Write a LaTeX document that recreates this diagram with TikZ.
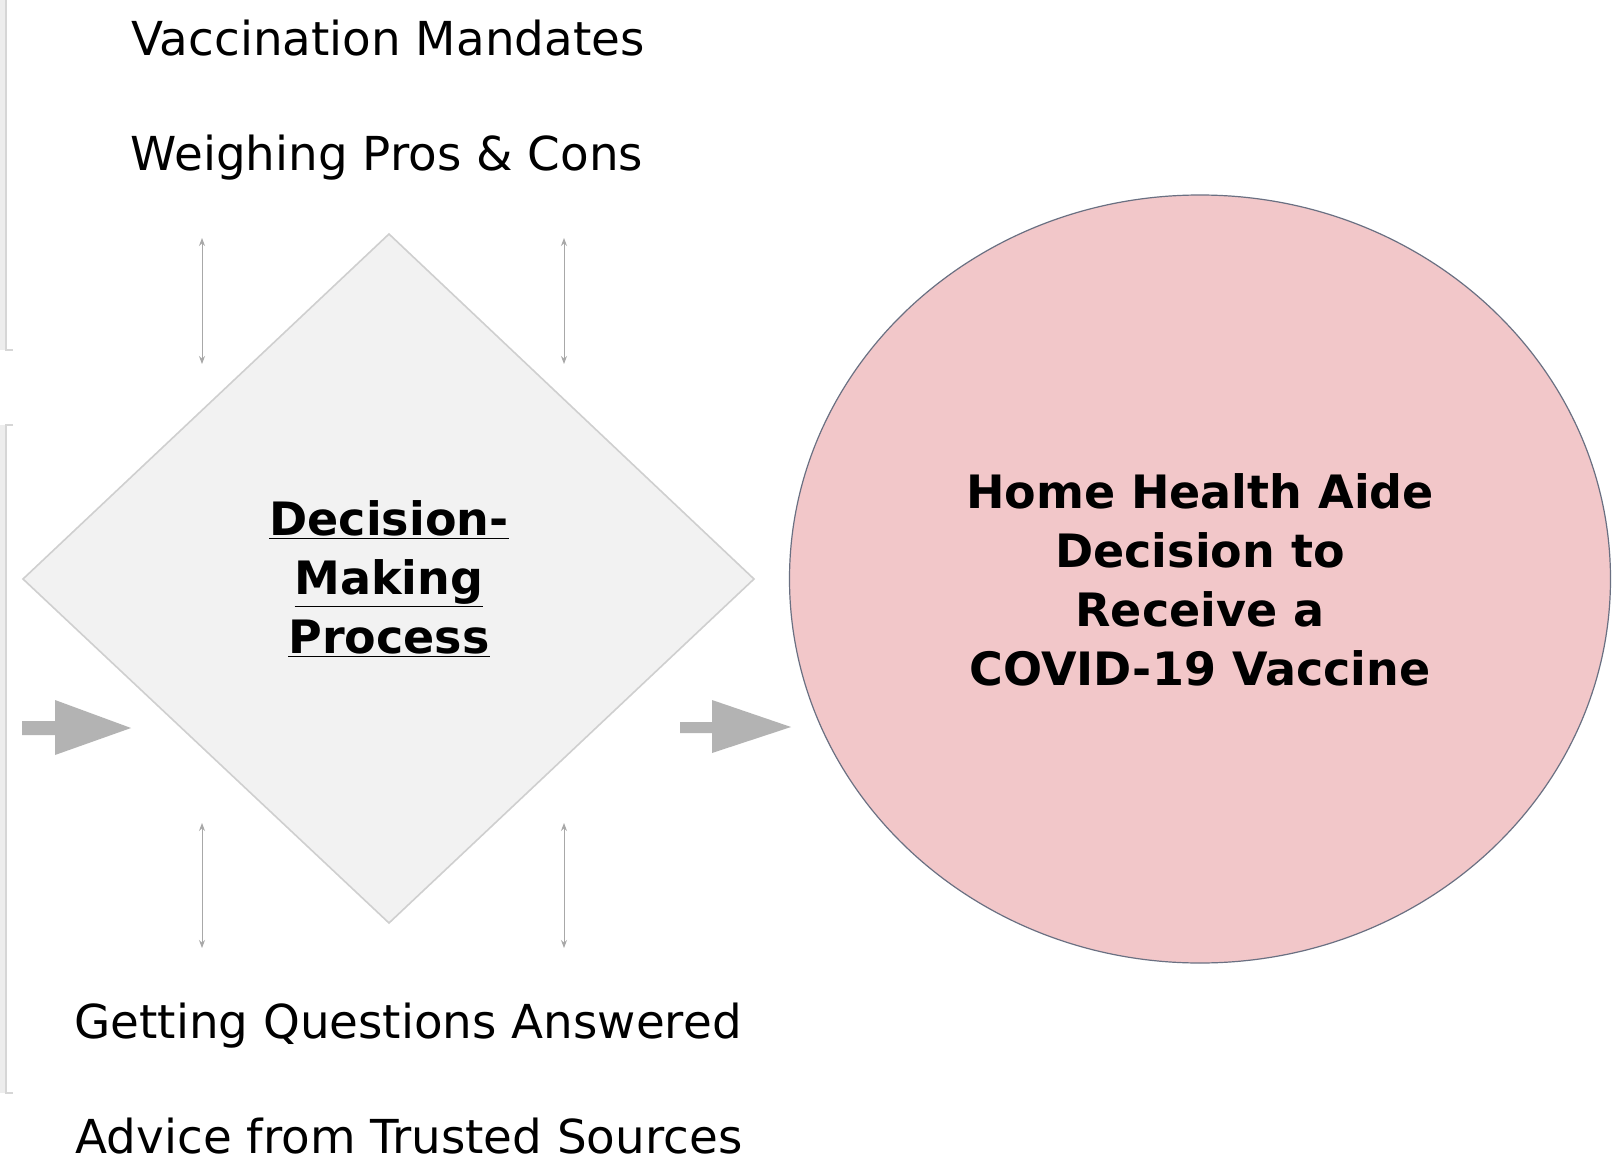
\documentclass[tikz,border=0pt]{standalone}
\usepackage{fontspec}
\setmainfont{DejaVu Sans}
\usetikzlibrary{shapes.geometric,arrows.meta}
\definecolor{diamfill}{HTML}{F2F2F2}
\definecolor{diamedge}{HTML}{CFCFCF}
\definecolor{circfill}{HTML}{F2C7C9}
\definecolor{circedge}{HTML}{6A7082}
\definecolor{blockarrow}{HTML}{B3B3B3}
\definecolor{thinarrow}{HTML}{A8A8A8}
\definecolor{barfill}{HTML}{EDEDED}
\definecolor{baredge}{HTML}{D6D6D6}
\tikzset{
  label text/.style={font=\fontsize{23.4}{28}\selectfont, anchor=base, inner sep=0pt},
  bold text/.style={font=\bfseries\fontsize{23}{29.5}\selectfont, align=center, inner sep=0pt},
  thin link/.style={draw=thinarrow, line width=0.5pt, {Stealth[length=4pt,width=3pt]}-{Stealth[length=4pt,width=3pt]}},
  block/.style={fill=blockarrow, draw=none},
}
\begin{document}
\begin{tikzpicture}[x=0.5pt,y=-0.5pt]
\useasboundingbox (0,0) rectangle (1613,1167);
\fill[white] (0,0) rectangle (1613,1167);
% left bars
\fill[barfill] (0,0) rectangle (6,350);
\draw[baredge, line width=0.8pt] (6,0) -- (6,350) -- (13,350);
\fill[barfill] (0,425) rectangle (6,1093);
\draw[baredge, line width=0.8pt] (13,425) -- (6,425) -- (6,1093) -- (13,1093);
% diamond
\coordinate (dT) at (389,234);
\coordinate (dR) at (754,579);
\coordinate (dB) at (389,923);
\coordinate (dL) at (23,579);
\draw[diamedge, fill=diamfill, line width=0.8pt] (dT) -- (dR) -- (dB) -- (dL) -- cycle;
\node[bold text] (dm) at (389,579) {\underline{Decision-}\\\underline{Making}\\\underline{Process}};
% ellipse
\node[ellipse, draw=circedge, fill=circfill, line width=0.6pt, minimum width=410.5pt, minimum height=384pt, inner sep=0pt] (goal) at (1200,579) {};
\node[bold text] (goaltext) at (1200,580) {Home Health Aide\\Decision to\\Receive a\\COVID-19 Vaccine};
% labels
\node[label text] (l1) at (388,55) {Vaccination Mandates};
\node[label text] (l2) at (387,170) {Weighing Pros \& Cons};
\node[label text] (l3) at (408,1038) {Getting Questions Answered};
\node[label text] (l4) at (409,1153) {Advice from Trusted Sources};
% thin double arrows
\coordinate (a1s) at (202,238); \coordinate (a1e) at (202,364);
\coordinate (a2s) at (564,238); \coordinate (a2e) at (564,364);
\coordinate (a3s) at (202,823); \coordinate (a3e) at (202,948);
\coordinate (a4s) at (564,823); \coordinate (a4e) at (564,948);
\draw[thin link] (a1s) -- (a1e);
\draw[thin link] (a2s) -- (a2e);
\draw[thin link] (a3s) -- (a3e);
\draw[thin link] (a4s) -- (a4e);
% block arrows
\coordinate (b1) at (22,728);
\coordinate (b2) at (680,728);
\fill[block] (b1) ++(0,-7) -- ++(33,0) -- ++(0,-21) -- (131,728) -- (55,755) -- (55,735) -- (22,735) -- cycle;
\fill[block] (b2) ++(0,-6) -- ++(32,0) -- ++(0,-22) -- (791,727) -- (712,753) -- (712,733) -- (680,733) -- cycle;
\end{tikzpicture}
\end{document}
